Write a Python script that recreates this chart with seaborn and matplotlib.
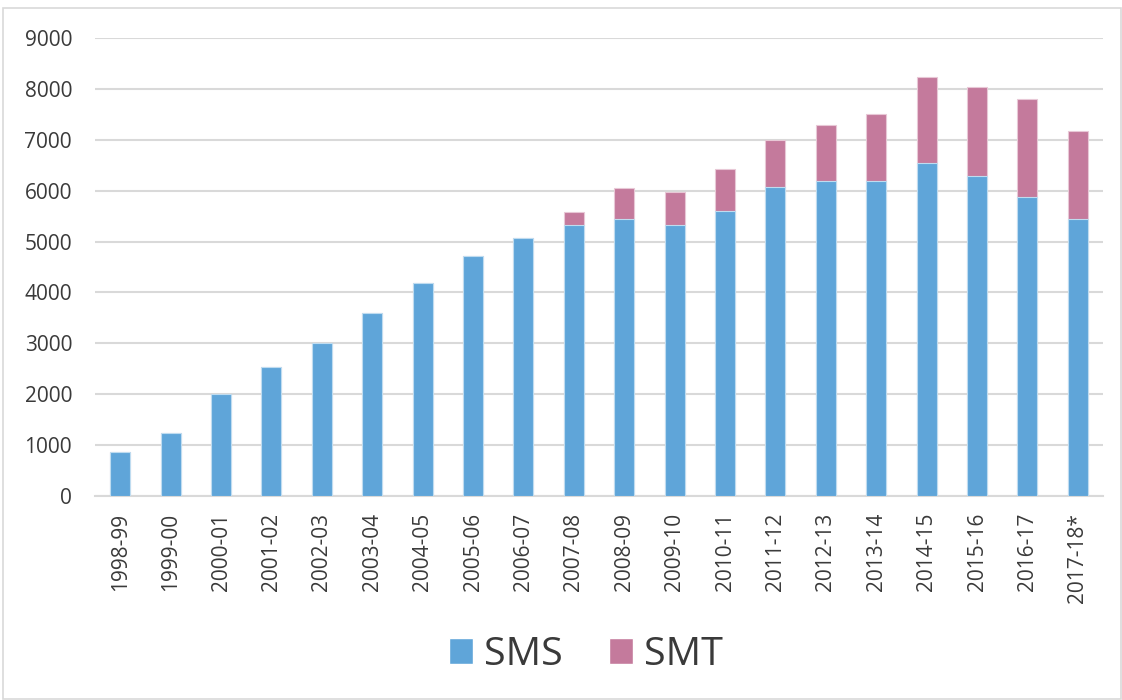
import matplotlib
matplotlib.use("Agg")
import matplotlib.pyplot as plt
import seaborn as sns
import pandas as pd
from matplotlib.patches import Patch, Rectangle

categories = ["1998-99", "1999-00", "2000-01", "2001-02", "2002-03", "2003-04",
              "2004-05", "2005-06", "2006-07", "2007-08", "2008-09", "2009-10",
              "2010-11", "2011-12", "2012-13", "2013-14", "2014-15", "2015-16",
              "2016-17", "2017-18*"]
sms = [870, 1245, 2000, 2535, 3005, 3595, 4195, 4720, 5075, 5335, 5440, 5335,
       5600, 6065, 6190, 6190, 6545, 6295, 5875, 5440]
smt = [0, 0, 0, 0, 0, 0, 0, 0, 0, 250, 605, 640,
       835, 935, 1105, 1310, 1685, 1745, 1925, 1730]
yticks = [0, 1000, 2000, 3000, 4000, 5000, 6000, 7000, 8000, 9000]

SMS_COLOR = "#5FA5D9"
SMT_COLOR = "#C47A9C"
TEXT = "#3A3A3A"

sns.set_theme(style="white")
plt.rcParams['font.family'] = ['Open Sans', 'DejaVu Sans']

df = pd.DataFrame({"cat": categories, "SMS": sms, "SMT": smt})
df["total"] = df["SMS"] + df["SMT"]

fig = plt.figure(figsize=(11.22, 7.0), dpi=100)
ax = fig.add_axes([95/1122, 1-496/700, (1103-95)/1122, (496-38)/700])

sns.barplot(data=df, x="cat", y="total", color=SMT_COLOR, width=0.4, ax=ax,
            saturation=1, edgecolor="#E8C8D6", linewidth=0.8, zorder=3)
sns.barplot(data=df, x="cat", y="SMS", color=SMS_COLOR, width=0.4, ax=ax,
            saturation=1, edgecolor="#BFDCF0", linewidth=0.8, zorder=4)

ax.set_ylim(0, 9000)
ax.set_xlim(-0.5, len(categories) - 0.5)
ax.set_yticks(yticks)
ax.set_yticklabels([str(v) for v in yticks])
ax.set_xlabel("")
ax.set_ylabel("")
ax.tick_params(axis="x", rotation=90, labelsize=15, colors=TEXT, length=0, pad=12)
ax.tick_params(axis="y", labelsize=15, colors=TEXT, length=0, pad=16.5)
ax.grid(axis="y", color="#D9D9D9", linewidth=1.5, zorder=0)
ax.set_axisbelow(True)
for s in ["top", "right", "left"]:
    ax.spines[s].set_visible(False)
ax.spines["bottom"].set_color("#D9D9D9")
ax.spines["bottom"].set_linewidth(1.5)

handles = [Patch(facecolor=SMS_COLOR, label="SMS"), Patch(facecolor=SMT_COLOR, label="SMT")]
leg = fig.legend(handles=handles, loc="center", bbox_to_anchor=(585.5/1122, 1-655/700), ncol=2,
                 frameon=False, fontsize=28.4, handlelength=0.61, handleheight=0.61,
                 handletextpad=0.28, columnspacing=1.17, borderpad=0, borderaxespad=0)
for t in leg.get_texts():
    t.set_color(TEXT)

fig.patches.append(Rectangle((3/1122, 0.002), 1-4/1122, 1-8/700-0.002,
                             transform=fig.transFigure, fill=False,
                             edgecolor="#D9D9D9", linewidth=1.2))

fig.savefig("out.png", dpi=100, facecolor="white")
